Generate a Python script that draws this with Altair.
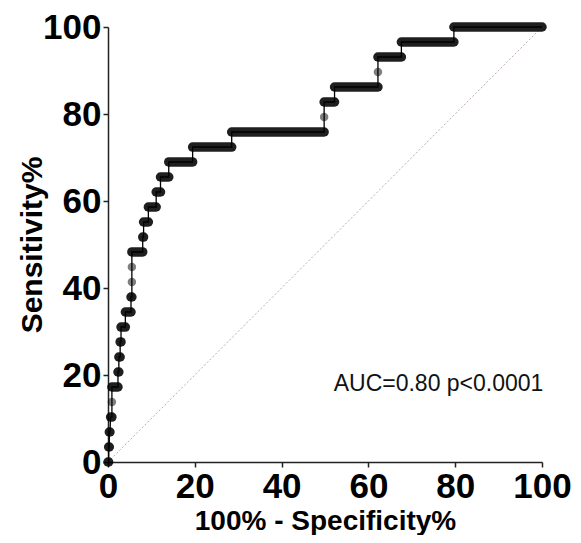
import altair as alt
import pandas as pd

# ROC curve: one row per sensitivity level
sensitivity = [0, 3.45, 6.90, 10.34, 13.79, 17.24, 20.69, 24.14, 27.59, 31.03,
               34.48, 37.93, 41.38, 44.83, 48.28, 51.72, 55.17, 58.62, 62.07, 65.52,
               68.97, 72.41, 75.86, 79.31, 82.76, 86.21, 89.66, 93.10, 96.55, 100]
fpr_start = [0, 0.15, 0.3, 0.6, 0.9, 0.9, 2.3, 2.5, 2.8, 3.0,
             4.0, 5.3, 5.5, 5.5, 5.5, 8.0, 8.2, 9.3, 11.1, 12.1,
             14.0, 19.5, 28.5, 49.8, 49.8, 52.2, 62.2, 62.2, 67.6, 79.7]
fpr_end = [0.15, 0.3, 0.45, 0.9, 0.9, 2.3, 2.5, 2.8, 3.0, 4.0,
           5.3, 5.5, 5.5, 5.5, 8.0, 8.2, 9.3, 11.1, 12.1, 14.0,
           19.5, 28.5, 49.8, 49.8, 52.2, 62.2, 62.2, 67.6, 79.7, 100]
x_ticks = [0, 20, 40, 60, 80, 100]
y_ticks = [0, 20, 40, 60, 80, 100]
diag = [0, 100]
annotation = "AUC=0.80 p<0.0001"

FONT = "Liberation Sans"

levels = pd.DataFrame({"tpr": sensitivity, "x0": fpr_start, "x1": fpr_end})
levels["single"] = levels["x0"] == levels["x1"]

# path through each level's start and end, in order
path_rows = []
for i, (t, a, b) in enumerate(zip(sensitivity, fpr_start, fpr_end)):
    path_rows.append({"order": 2 * i, "fpr": a, "tpr": t})
    path_rows.append({"order": 2 * i + 1, "fpr": b, "tpr": t})
path = pd.DataFrame(path_rows)

diag_df = pd.DataFrame({"fpr": diag, "tpr": diag})
ann_df = pd.DataFrame({"fpr": [52], "tpr": [18], "label": [annotation]})

xscale = alt.Scale(domain=[0, 100], nice=False)
yscale = alt.Scale(domain=[0, 100], nice=False)

xaxis = alt.Axis(values=x_ticks, title="100% - Specificity%", grid=False,
                 labelFontSize=35, labelFontWeight="bold", labelFont=FONT,
                 labelColor="black", titleFontSize=28, titleFontWeight="bold",
                 titleFont=FONT, titleColor="black", tickSize=5, tickWidth=1.5,
                 tickColor="#222", domainColor="#222", domainWidth=1.5,
                 labelPadding=2, titleBaseline="alphabetic", titleY=67,
                 labelFlush=False)
yaxis = alt.Axis(values=y_ticks, title="Sensitivity%", grid=False,
                 labelFontSize=35, labelFontWeight="bold", labelFont=FONT,
                 labelColor="black", titleFontSize=30, titleFontWeight="bold",
                 titleFont=FONT, titleColor="black", tickSize=5, tickWidth=1.5,
                 tickColor="#222", domainColor="#222", domainWidth=1.5,
                 labelPadding=2, titleAngle=270, titleBaseline="bottom",
                 titleAlign="center", titleX=-61, labelFlush=False)

base_x = alt.X("fpr:Q", scale=xscale, axis=xaxis)
base_y = alt.Y("tpr:Q", scale=yscale, axis=yaxis)

diagonal = alt.Chart(diag_df).mark_line(
    color="#bfa9b6", strokeWidth=1, strokeDash=[2, 2]
).encode(x=base_x, y=base_y)

pills = alt.Chart(levels).transform_filter("!datum.single").mark_rule(
    strokeWidth=9.5, strokeCap="round", color="black", opacity=0.88
).encode(x=alt.X("x0:Q", scale=xscale, axis=xaxis), x2="x1:Q",
         y=alt.Y("tpr:Q", scale=yscale, axis=yaxis))

singles = alt.Chart(levels).transform_filter("datum.single").mark_circle(
    size=72, color="black", opacity=0.5
).encode(x=alt.X("x0:Q", scale=xscale, axis=xaxis),
         y=alt.Y("tpr:Q", scale=yscale, axis=yaxis))

steps = alt.Chart(path).mark_line(color="black", strokeWidth=1.3).encode(
    x=base_x, y=base_y, order="order:Q")

text = alt.Chart(ann_df).mark_text(
    align="left", baseline="middle", fontSize=23, font=FONT, color="#111"
).encode(x=base_x, y=base_y, text="label:N")

chart = alt.layer(diagonal, pills, singles, steps, text).properties(
    width=434, height=435,
    autosize=alt.AutoSizeParams(type="none"),
    padding={"left": 100, "top": 19, "right": 31, "bottom": 73},
).configure_view(stroke=None)

chart.save("out.html", embed_options={"renderer": "svg", "actions": False})
